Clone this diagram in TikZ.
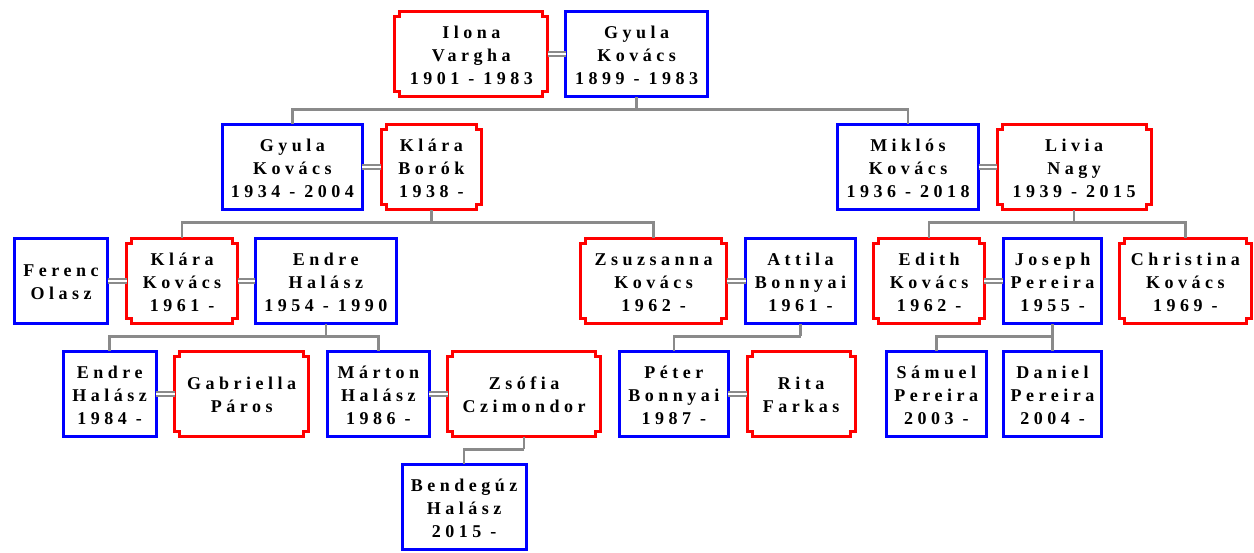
\documentclass[tikz,border=0pt]{standalone}
\usepackage{fontspec}
\newfontfamily\pfont{Liberation Serif}[LetterSpace=25]
\definecolor{cgray}{RGB}{138,138,138}
\newcommand\pers[3]{\raisebox{0pt}[\dimexpr\height+5pt\relax][\depth]{\begin{tabular}{@{}c@{}}#1\\#2\\#3\end{tabular}}}
\newcommand\notchbox[1]{%
  \draw[fline] ([xshift=5pt]#1.north west) -- ([xshift=-5pt]#1.north east)
    -- ([xshift=-5pt,yshift=-5pt]#1.north east) -- ([yshift=-5pt]#1.north east)
    -- ([yshift=5pt]#1.south east) -- ([xshift=-5pt,yshift=5pt]#1.south east)
    -- ([xshift=-5pt]#1.south east) -- ([xshift=5pt]#1.south west)
    -- ([xshift=5pt,yshift=5pt]#1.south west) -- ([yshift=5pt]#1.south west)
    -- ([yshift=-5pt]#1.north west) -- ([xshift=5pt,yshift=-5pt]#1.north west)
    -- cycle;}
\begin{document}
\begin{tikzpicture}[x=1pt,y=-1pt,
  person/.style={minimum height=85.5pt, inner sep=0pt, outer sep=0pt, align=center,
    font=\pfont\bfseries\fontsize{18}{23}\selectfont},
  male/.style={person, draw=blue, line width=3pt},
  female/.style={person},
  fline/.style={draw=red, line width=3pt, line join=miter},
  conn/.style={draw=cgray, line width=2.5pt},
  spouse/.style={draw=cgray, double=white, double distance=2.5pt, line width=1.5pt}
]
\useasboundingbox[fill=white] (0,0) rectangle (1254,552);

% row 1
\node[female, minimum width=153pt] (ilona) at (471.3,54) {\pers{Ilona}{Vargha}{1901 - 1983}};
\node[male, minimum width=141.7pt] (gyula) at (636.7,54) {\pers{Gyula}{Kovács}{1899 - 1983}};
% row 2
\node[male, minimum width=140.3pt] (gyula2) at (292.3,167) {\pers{Gyula}{Kovács}{1934 - 2004}};
\node[female, minimum width=99.7pt] (klarab) at (431.3,167) {\pers{Klára}{Borók}{1938 -}};
\node[male, minimum width=141pt] (miklos) at (908,167) {\pers{Miklós}{Kovács}{1936 - 2018}};
\node[female, minimum width=154pt] (livia) at (1074.2,167) {\pers{Livia}{Nagy}{1939 - 2015}};
% row 3
\node[male, minimum width=93.6pt] (ferenc) at (61,281) {\pers{Ferenc}{Olasz}{}};
\node[female, minimum width=111pt] (klarak) at (182,281) {\pers{Klára}{Kovács}{1961 -}};
\node[male, minimum width=140.7pt] (endre) at (325.8,281) {\pers{Endre}{Halász}{1954 - 1990}};
\node[female, minimum width=146.3pt] (zsuzsa) at (653.7,281) {\pers{Zsuzsanna}{Kovács}{1962 -}};
\node[male, minimum width=109.4pt] (attila) at (800.5,281) {\pers{Attila}{Bonnyai}{1961 -}};
\node[female, minimum width=110.7pt] (edith) at (929.1,281) {\pers{Edith}{Kovács}{1962 -}};
\node[male, minimum width=98.6pt] (joseph) at (1052.5,281) {\pers{Joseph}{Pereira}{1955 -}};
\node[female, minimum width=132.3pt] (christina) at (1185.3,281) {\pers{Christina}{Kovács}{1969 -}};
% row 4
\node[male, minimum width=93pt] (endrejr) at (109.7,394) {\pers{Endre}{Halász}{1984 -}};
\node[female, minimum width=133.7pt] (gabriella) at (241.7,394) {\pers{Gabriella}{Páros}{}};
\node[male, minimum width=102.3pt] (marton) at (378.3,394) {\pers{Márton}{Halász}{1986 -}};
\node[female, minimum width=153.3pt] (zsofia) at (524.2,394) {\pers{Zsófia}{Czimondor}{}};
\node[male, minimum width=109.3pt] (peter) at (673.8,394) {\pers{Péter}{Bonnyai}{1987 -}};
\node[female, minimum width=108pt] (rita) at (801.2,394) {\pers{Rita}{Farkas}{}};
\node[male, minimum width=99.7pt] (samuel) at (936.3,394) {\pers{Sámuel}{Pereira}{2003 -}};
\node[male, minimum width=98.6pt] (daniel) at (1052.5,394) {\pers{Daniel}{Pereira}{2004 -}};
% row 5
\node[male, minimum width=124pt] (bendeguz) at (464.2,507) {\pers{Bendegúz}{Halász}{2015 -}};

\foreach \n in {ilona,klarab,livia,klarak,zsuzsa,edith,christina,gabriella,zsofia,rita}
  {\notchbox{\n}}

% spouses
\draw[spouse] (ilona.east) -- (gyula.west);
\draw[spouse] (gyula2.east) -- (klarab.west);
\draw[spouse] (miklos.east) -- (livia.west);
\draw[spouse] (ferenc.east) -- (klarak.west);
\draw[spouse] (klarak.east) -- (endre.west);
\draw[spouse] (zsuzsa.east) -- (attila.west);
\draw[spouse] (edith.east) -- (joseph.west);
\draw[spouse] (endrejr.east) -- (gabriella.west);
\draw[spouse] (marton.east) -- (zsofia.west);
\draw[spouse] (peter.east) -- (rita.west);

% descent
\draw[conn] (gyula.south) -- ++(0,12.5) coordinate (b1);
\draw[conn] (b1) -| (gyula2.north);
\draw[conn] (b1) -| (miklos.north);
\draw[conn] (klarab.south) -- ++(0,12.5) coordinate (b2);
\draw[conn] (b2) -| (klarak.north);
\draw[conn] (b2) -| (zsuzsa.north);
\draw[conn] (livia.south) -- ++(0,12.5) coordinate (b3);
\draw[conn] (b3) -| (edith.north);
\draw[conn] (b3) -| (christina.north);
\draw[conn] (endre.south) -- ++(0,12.5) coordinate (b4);
\draw[conn] (b4) -| (endrejr.north);
\draw[conn] (b4) -| (marton.north);
\draw[conn] (attila.south) -- ++(0,12.5) coordinate (b5);
\draw[conn] (b5) -| (peter.north);
\draw[conn] (joseph.south) -- ++(0,12.5) coordinate (b6);
\draw[conn] (b6) -| (samuel.north);
\draw[conn] (b6) -| (daniel.north);
\draw[conn] (zsofia.south) -- ++(0,12.5) coordinate (b7);
\draw[conn] (b7) -| (bendeguz.north);
\end{tikzpicture}
\end{document}
